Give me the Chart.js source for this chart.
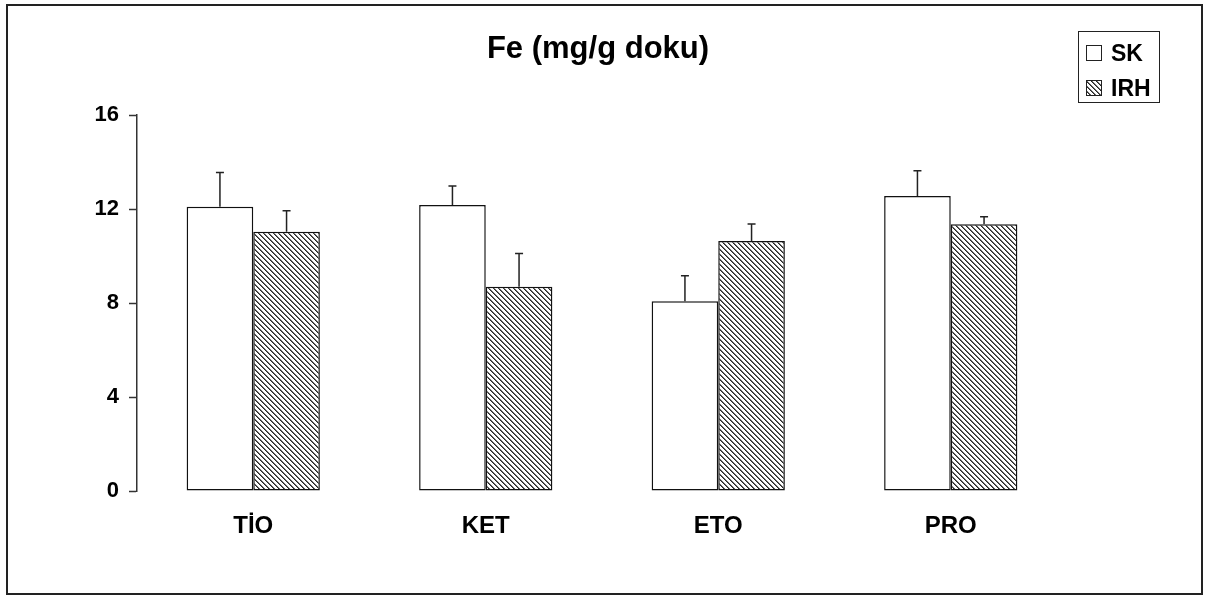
<!DOCTYPE html>
<html>
<head>
<meta charset="utf-8">
<script src="https://cdn.jsdelivr.net/npm/chart.js@4"></script>
<style>
    html, body { margin: 0; padding: 0; background: #fff; }
    #wrap { position: relative; width: 1211px; height: 599px; }
    #frame { position: absolute; left: 6px; top: 4px; width: 1197px; height: 591px;
             box-sizing: border-box; border: 2px solid #222; pointer-events: none; }
    canvas { position: absolute; left: 0; top: 0; }
</style>
</head>
<body>
<div id="wrap">
    <canvas id="feChart" width="1211" height="599"></canvas>
    <div id="frame"></div>
</div>
<script>
// Data
const chartTitle = 'Fe (mg/g doku)';
const categories = ['TİO', 'KET', 'ETO', 'PRO'];
const skValues = [12.1, 12.17, 8.07, 12.55];
const skErr = [1.45, 0.81, 1.09, 1.08];
const irhValues = [11.03, 8.69, 10.64, 11.35];
const irhErr = [0.9, 1.42, 0.72, 0.32];
const yTicks = [0, 4, 8, 12, 16];

const FONT = 'Arial, "Liberation Sans", sans-serif';

// Diagonal hatch (top-left to bottom-right)
function makeHatch() {
    const size = 5;
    const c = document.createElement('canvas');
    c.width = size; c.height = size;
    const g = c.getContext('2d');
    const img = g.createImageData(size, size);
    for (let y = 0; y < size; y++) {
        for (let x = 0; x < size; x++) {
            const i = (y * size + x) * 4;
            const d = ((x - y) % size + size) % size;
            const v = d === 0 ? 40 : (d === 1 ? 110 : 255);
            img.data[i] = v; img.data[i + 1] = v; img.data[i + 2] = v; img.data[i + 3] = 255;
        }
    }
    g.putImageData(img, 0, 0);
    return document.getElementById('feChart').getContext('2d').createPattern(c, 'repeat');
}
const hatch = makeHatch();

// Upward-only error bars with a small cap
const errorBars = {
    id: 'errorBars',
    afterDatasetsDraw(chart) {
        const ctx = chart.ctx;
        const y = chart.scales.y;
        ctx.save();
        ctx.strokeStyle = '#222';
        ctx.lineWidth = 1.5;
        chart.data.datasets.forEach((ds, di) => {
            const meta = chart.getDatasetMeta(di);
            meta.data.forEach((bar, i) => {
                const top = y.getPixelForValue(ds.data[i] + ds.errors[i]);
                ctx.beginPath();
                ctx.moveTo(bar.x, bar.y);
                ctx.lineTo(bar.x, top);
                ctx.moveTo(bar.x - 4, top);
                ctx.lineTo(bar.x + 4, top);
                ctx.stroke();
            });
        });
        ctx.restore();
    }
};

// Title and boxed legend
const header = {
    id: 'header',
    afterDraw(chart) {
        const ctx = chart.ctx;
        ctx.save();
        ctx.fillStyle = '#000';
        ctx.font = 'bold 31px ' + FONT;
        ctx.textAlign = 'center';
        ctx.textBaseline = 'middle';
        ctx.fillText(chartTitle, 598, 49);

        ctx.strokeStyle = '#222';
        ctx.lineWidth = 1;
        ctx.strokeRect(1078.5, 31.5, 81, 71);
        ctx.font = 'bold 23px ' + FONT;
        ctx.textAlign = 'left';
        ctx.textBaseline = 'alphabetic';
        chart.data.datasets.forEach((ds, i) => {
            const top = 45 + i * 35;
            ctx.fillStyle = ds.backgroundColor;
            ctx.fillRect(1086, top, 15, 15);
            ctx.strokeRect(1086.5, top + 0.5, 15, 15);
            ctx.fillStyle = '#000';
            ctx.fillText(ds.label, 1111, top + 16);
        });
        ctx.restore();
    }
};

new Chart(document.getElementById('feChart'), {
    type: 'bar',
    data: {
        labels: categories,
        datasets: [
            { label: 'SK', data: skValues, errors: skErr, backgroundColor: '#fff',
              borderColor: '#111', borderWidth: 1.5, borderSkipped: false },
            { label: 'IRH', data: irhValues, errors: irhErr, backgroundColor: hatch,
              borderColor: '#111', borderWidth: 1.5, borderSkipped: false }
        ]
    },
    options: {
        responsive: false,
        animation: false,
        devicePixelRatio: 1,
        layout: { padding: { top: 115, right: 144, bottom: 0, left: 0 } },
        datasets: { bar: { categoryPercentage: 0.573, barPercentage: 1 } },
        plugins: { legend: { display: false }, title: { display: false }, tooltip: { enabled: false } },
        scales: {
            x: {
                grid: { display: false },
                border: { display: false },
                ticks: { color: '#000', font: { family: FONT, size: 24, weight: 'bold' }, padding: 13 },
                afterFit: s => { s.height = 108; }
            },
            y: {
                min: 0,
                max: 16,
                afterBuildTicks: s => { s.ticks = yTicks.map(v => ({ value: v })); },
                grid: { drawOnChartArea: false, drawTicks: true, tickLength: 8, tickColor: '#333', tickWidth: 1.5 },
                border: { display: true, color: '#333', width: 1.5 },
                ticks: { color: '#000', font: { family: FONT, size: 22, weight: 'bold' }, padding: 10 },
                afterFit: s => { s.width = 137; }
            }
        }
    },
    plugins: [errorBars, header]
});
</script>
</body>
</html>
